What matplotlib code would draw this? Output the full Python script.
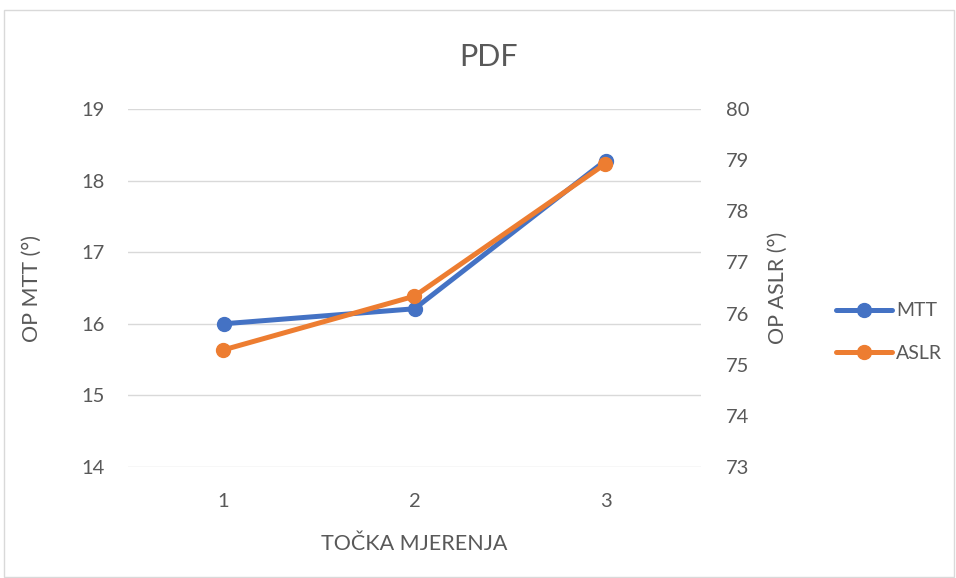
import matplotlib
matplotlib.use("Agg")
import matplotlib.pyplot as plt
from matplotlib.patches import Rectangle

# ── Data ──────────────────────────────────────────────────────────────────────
categories = ["1", "2", "3"]
mtt = [16.0, 16.21, 18.28]
aslr = [75.29, 76.34, 78.93]

left_ticks = [14, 15, 16, 17, 18, 19]
right_ticks = [73, 74, 75, 76, 77, 78, 79, 80]

BLUE = "#4472c4"
ORANGE = "#ed7d31"
TXT = "#595959"
GRID = "#d9d9d9"

plt.rcParams["font.family"] = ["Lato", "DejaVu Sans"]

fig = plt.figure(figsize=(9.56, 5.78), dpi=100)
fig.patches.append(Rectangle((4 / 956, 0.002), 950 / 956, 1 - 10 / 578 - 0.002,
                             transform=fig.transFigure, fill=False,
                             edgecolor=GRID, linewidth=1))

ax = fig.add_axes([128 / 956, 1 - 467 / 578, (701 - 128) / 956, (467 - 109) / 578])
ax2 = ax.twinx()

xs = list(range(1, len(categories) + 1))

ax.set_ylim(14, 19)
ax.set_yticks(left_ticks)
ax2.set_ylim(73, 80)
ax2.set_yticks(right_ticks)
ax.set_xlim(0.5, 3.5)
ax.set_xticks(xs)
ax.set_xticklabels(categories)

for y in left_ticks:
    ax.axhline(y, color=GRID, linewidth=1, zorder=0)

l1, = ax.plot(xs, mtt, color=BLUE, linewidth=3.6, marker="o", markersize=10,
              label="MTT", zorder=3, solid_capstyle="round")
l2, = ax2.plot(xs, aslr, color=ORANGE, linewidth=3.6, marker="o", markersize=10,
               label="ASLR", zorder=3, solid_capstyle="round")

for a in (ax, ax2):
    for s in a.spines.values():
        s.set_visible(False)
    a.tick_params(length=0, labelsize=14.5, labelcolor=TXT)
ax.tick_params(axis="y", pad=16.5)
ax.tick_params(axis="x", pad=18.5)
ax2.tick_params(axis="y", pad=18)

ax.set_ylabel("OP MTT (°)", fontsize=15.5, color=TXT)
ax.yaxis.set_label_coords(-0.150, 0.5)
ax2.set_ylabel("OP ASLR (°)", fontsize=15.5, color=TXT)
ax2.yaxis.set_label_coords(1.117, 0.5)
ax.set_xlabel("TOČKA MJERENJA", fontsize=15.5, color=TXT)
ax.xaxis.set_label_coords(0.5, -0.188)

fig.text(488 / 956, 1 - 57 / 578, "PDF", fontsize=22, color=TXT,
         ha="center", va="center")

fig.legend(handles=[l1, l2], loc="center left",
           bbox_to_anchor=(818 / 956, 1 - 332 / 578), frameon=False,
           fontsize=14, labelcolor=TXT, handlelength=2.9, labelspacing=1.3,
           handletextpad=0.2)

fig.savefig("out.png", dpi=100)
